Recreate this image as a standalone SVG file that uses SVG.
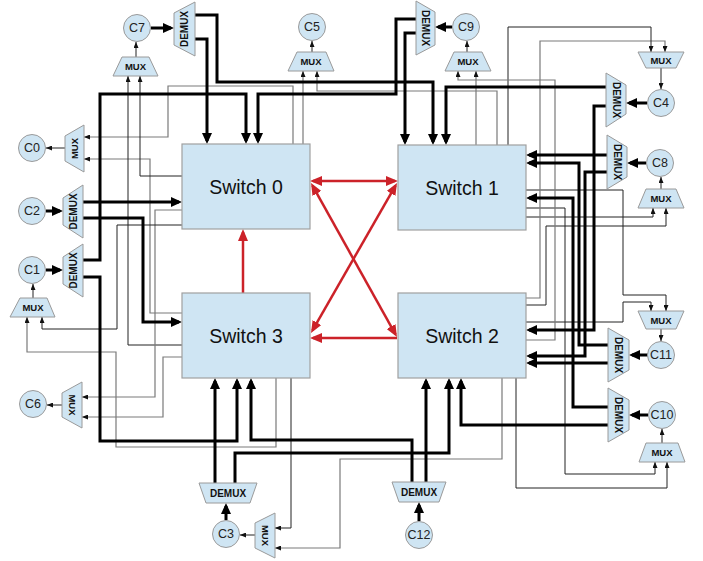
<svg xmlns="http://www.w3.org/2000/svg" width="703" height="561" viewBox="0 0 703 561">
<style>
.bg{fill:#ffffff}
.sw{fill:#cfe5f3;stroke:#a0a0a0;stroke-width:1.2}
.nd{fill:#cfe5f3;stroke:#9a9a9a;stroke-width:1}
.tz{fill:#cfe5f3;stroke:#9a9a9a;stroke-width:1}
.swt{font-family:"Liberation Sans",Arial,sans-serif;font-size:19.5px;fill:#111;text-anchor:middle;dominant-baseline:central}
.ct{font-family:"Liberation Sans",Arial,sans-serif;font-size:12.5px;fill:#222;text-anchor:middle;dominant-baseline:central}
.mt{font-family:"Liberation Sans",Arial,sans-serif;font-size:9.5px;font-weight:bold;fill:#111;text-anchor:middle;dominant-baseline:central}
.dt{font-family:"Liberation Sans",Arial,sans-serif;font-size:10px;font-weight:bold;fill:#111;text-anchor:middle;dominant-baseline:central}
.thk{fill:none;stroke:#000;stroke-width:3;marker-end:url(#ak)}
.thn{fill:none;stroke:#222;stroke-width:1;marker-end:url(#at)}
.gry{fill:none;stroke:#7a7a7a;stroke-width:1.2;marker-end:url(#at)}
.red{fill:none;stroke:#cc2229;stroke-width:2.5;marker-end:url(#ar)}
.red2{fill:none;stroke:#cc2229;stroke-width:2.5;marker-end:url(#ar);marker-start:url(#ar)}
</style>
<defs>
<marker id="ak" markerUnits="userSpaceOnUse" markerWidth="11" markerHeight="10" refX="8" refY="5" orient="auto"><path d="M0,0 L11,5 L0,10 z" fill="#000"/></marker>
<marker id="at" markerUnits="userSpaceOnUse" markerWidth="6" markerHeight="5" refX="6" refY="2.5" orient="auto"><path d="M0,0 L6,2.5 L0,5 z" fill="#111"/></marker>
<marker id="ar" markerUnits="userSpaceOnUse" markerWidth="12" markerHeight="10" refX="9" refY="5" orient="auto-start-reverse"><path d="M0,0 L12,5 L0,10 z" fill="#cc2229"/></marker>
</defs>
<rect class="bg" x="0" y="0" width="703" height="561"/>
<g id="connectors">
<!-- thin switch outputs to MUX inputs -->
<path class="gry" d="M303,144 V71"/>
<path class="gry" d="M497,145 V91 H317 V71"/>
<path class="gry" d="M293,144 V86 H168 V137 H84"/>
<path class="gry" d="M182,313 H150 V159 H84"/>
<path class="thn" d="M182,176 H140 V76"/>
<path class="thn" d="M182,345 H128 V76"/>
<path class="gry" d="M182,210 H155 V397 H82"/>
<path class="gry" d="M182,357 H163 V417 H82"/>
<path class="thn" d="M182,225 H117 V329 H42 V317"/>
<path class="gry" d="M276,378 V447 H116 V352 H27 V317"/>
<path class="thn" d="M291,378 V528 H275"/>
<path class="gry" d="M502,378 V459 H340 V548 H275"/>
<path class="thn" d="M516,378 V488 H667 V462"/>
<path class="thn" d="M526,208 H565 V474 H655 V462"/>
<path class="thn" d="M526,190 H623 V295 H666 V311"/>
<path class="thn" d="M526,322 H623 V302 H651 V311"/>
<path class="thn" d="M526,217 H653 V208"/>
<path class="thn" d="M526,305 H546 V226 H666 V208"/>
<path class="gry" d="M526,298 H540 V41 H665 V52"/>
<path class="thn" d="M508,145 V27 H651 V52"/>
<path class="gry" d="M476,145 V71"/>
<path class="gry" d="M526,340 H555 V80 H458 V71"/>
<!-- MUX outputs to nodes -->
<path class="thn" d="M136,57 V42"/>
<path class="thn" d="M312,52 V41"/>
<path class="thn" d="M467,52 V41"/>
<path class="thn" d="M661,68 V89"/>
<path class="thn" d="M661,189 V177"/>
<path class="thn" d="M661,329 V341"/>
<path class="thn" d="M662,443 V429"/>
<path class="thn" d="M33,298 V284"/>
<path class="thn" d="M65,148 H46"/>
<path class="thn" d="M62,405 H47"/>
<path class="thn" d="M255,535 H240"/>
<!-- nodes to DEMUX -->
<path class="thk" d="M151,28 H171"/>
<path class="thk" d="M452,27 H438"/>
<path class="thk" d="M647,103 H629"/>
<path class="thk" d="M646,163 H630"/>
<path class="thk" d="M648,355 H632"/>
<path class="thk" d="M648,415 H632"/>
<path class="thk" d="M46,211 H60"/>
<path class="thk" d="M46,270 H60"/>
<path class="thk" d="M226,520 V506"/>
<path class="thk" d="M419,521 V505"/>
<!-- DEMUX outputs to switches -->
<path class="thk" d="M195,15 H217 V82 H433 V142"/>
<path class="thk" d="M195,39 H207 V141"/>
<path class="thk" d="M416,19 H396 V94 H258 V141"/>
<path class="thk" d="M416,33 H405 V142"/>
<path class="thk" d="M606,87 H446 V142"/>
<path class="thk" d="M606,106 H594 V330 H529"/>
<path class="thk" d="M607,155 H529"/>
<path class="thk" d="M607,172 H585 V356 H529"/>
<path class="thk" d="M608,345 H579 V163 H529"/>
<path class="thk" d="M608,363 H529"/>
<path class="thk" d="M608,407 H573 V198 H529"/>
<path class="thk" d="M608,425 H461 V381"/>
<path class="thk" d="M412,482 V440 H251 V381"/>
<path class="thk" d="M426,482 V381"/>
<path class="thk" d="M215,483 V381"/>
<path class="thk" d="M235,483 V453 H449 V381"/>
<path class="thk" d="M83,202 H179"/>
<path class="thk" d="M83,218 H143 V322 H179"/>
<path class="thk" d="M83,260 H100 V94 H246 V141"/>
<path class="thk" d="M83,277 H100 V441 H237 V381"/>
<!-- switch interconnect -->
<path class="red2" d="M313,181 H395"/>
<path class="red" d="M243,293 V232"/>
<path class="red2" d="M312.5,185.6 L395.5,334.4"/>
<path class="red2" d="M395.5,185.6 L312.5,330.4"/>
<path class="red" d="M397,338 H313"/>
</g>
<g id="switch0"><rect class="sw" x="182" y="144" width="128" height="85"/><text class="swt" x="246" y="187">Switch 0</text></g>
<g id="switch1"><rect class="sw" x="398" y="145" width="128" height="85"/><text class="swt" x="462" y="188">Switch 1</text></g>
<g id="switch3"><rect class="sw" x="182" y="293" width="128" height="85"/><text class="swt" x="246" y="336">Switch 3</text></g>
<g id="switch2"><rect class="sw" x="398" y="293" width="128" height="85"/><text class="swt" x="462" y="336">Switch 2</text></g>
<g id="c7"><circle class="nd" cx="137" cy="28" r="13.5"/><text class="ct" x="137" y="28">C7</text></g>
<g id="c5"><circle class="nd" cx="312" cy="27" r="13.5"/><text class="ct" x="312" y="27">C5</text></g>
<g id="c9"><circle class="nd" cx="466" cy="27" r="13.5"/><text class="ct" x="466" y="27">C9</text></g>
<g id="c0"><circle class="nd" cx="32" cy="148" r="13.5"/><text class="ct" x="32" y="148">C0</text></g>
<g id="c2"><circle class="nd" cx="32" cy="211" r="13.5"/><text class="ct" x="32" y="211">C2</text></g>
<g id="c1"><circle class="nd" cx="32" cy="270" r="13.5"/><text class="ct" x="32" y="270">C1</text></g>
<g id="c6"><circle class="nd" cx="33" cy="404" r="13.5"/><text class="ct" x="33" y="404">C6</text></g>
<g id="c4"><circle class="nd" cx="661" cy="103" r="13.5"/><text class="ct" x="661" y="103">C4</text></g>
<g id="c8"><circle class="nd" cx="660" cy="163" r="13.5"/><text class="ct" x="660" y="163">C8</text></g>
<g id="c11"><circle class="nd" cx="661" cy="355" r="13.5"/><text class="ct" x="661" y="355">C11</text></g>
<g id="c10"><circle class="nd" cx="662" cy="415" r="13.5"/><text class="ct" x="662" y="415">C10</text></g>
<g id="c3"><circle class="nd" cx="226" cy="534" r="13.5"/><text class="ct" x="226" y="534">C3</text></g>
<g id="c12"><circle class="nd" cx="419" cy="535" r="13.5"/><text class="ct" x="419" y="535">C12</text></g>
<g id="mux-c7"><polygon class="tz" points="122,57 149,57 158,76 113,76"/><text class="mt" x="135.5" y="66.5">MUX</text></g>
<g id="mux-c5"><polygon class="tz" points="297,52 326,52 334,71 288,71"/><text class="mt" x="311" y="61.5">MUX</text></g>
<g id="mux-c9"><polygon class="tz" points="454,52 482,52 491,71 445,71"/><text class="mt" x="468" y="61.5">MUX</text></g>
<g id="mux-c4"><polygon class="tz" points="638,52 684,52 676,68 646,68"/><text class="mt" x="661" y="60">MUX</text></g>
<g id="mux-c8"><polygon class="tz" points="646,189 676,189 684,208 638,208"/><text class="mt" x="661" y="198.5">MUX</text></g>
<g id="mux-c11"><polygon class="tz" points="638,311 684,311 676,329 646,329"/><text class="mt" x="661" y="320">MUX</text></g>
<g id="mux-c10"><polygon class="tz" points="646,443 678,443 685,462 639,462"/><text class="mt" x="662" y="452.5">MUX</text></g>
<g id="mux-c1"><polygon class="tz" points="20,298 47,298 55,317 10,317"/><text class="mt" x="33" y="307.5">MUX</text></g>
<g id="mux-c0"><polygon class="tz" points="65,136 84,125 84,172 65,161"/><text class="mt" transform="translate(74.5,148.5) rotate(-90)">MUX</text></g>
<g id="mux-c6"><polygon class="tz" points="62,393 82,382 82,428 62,417"/><text class="mt" transform="translate(72,405) rotate(90)">MUX</text></g>
<g id="mux-c3"><polygon class="tz" points="255,523 275,513 275,558 255,548"/><text class="mt" transform="translate(265,535.5) rotate(90)">MUX</text></g>
<g id="demux-c7"><polygon class="tz" points="174,13 195,2 195,56 174,45"/><text class="dt" transform="translate(184.5,29) rotate(-90)">DEMUX</text></g>
<g id="demux-c9"><polygon class="tz" points="416,1 435,12 435,45 416,55"/><text class="dt" transform="translate(425.5,28) rotate(90)">DEMUX</text></g>
<g id="demux-c4"><polygon class="tz" points="606,73 626,85 626,114 606,127"/><text class="dt" transform="translate(616,100) rotate(90)">DEMUX</text></g>
<g id="demux-c8"><polygon class="tz" points="607,135 627,147 627,177 607,189"/><text class="dt" transform="translate(617,162) rotate(90)">DEMUX</text></g>
<g id="demux-c11"><polygon class="tz" points="608,328 629,340 629,370 608,382"/><text class="dt" transform="translate(618.5,355) rotate(90)">DEMUX</text></g>
<g id="demux-c10"><polygon class="tz" points="608,388 629,400 629,430 608,442"/><text class="dt" transform="translate(618.5,415) rotate(90)">DEMUX</text></g>
<g id="demux-c2"><polygon class="tz" points="63,198 83,185 83,238 63,225"/><text class="dt" transform="translate(73,211.5) rotate(-90)">DEMUX</text></g>
<g id="demux-c1"><polygon class="tz" points="63,257 83,244 83,297 63,284"/><text class="dt" transform="translate(73,270.5) rotate(-90)">DEMUX</text></g>
<g id="demux-c3"><polygon class="tz" points="199,483 257,483 250,503 206,503"/><text class="dt" x="228" y="493">DEMUX</text></g>
<g id="demux-c12"><polygon class="tz" points="392,482 446,482 439,502 399,502"/><text class="dt" x="419" y="492">DEMUX</text></g>
</svg>
